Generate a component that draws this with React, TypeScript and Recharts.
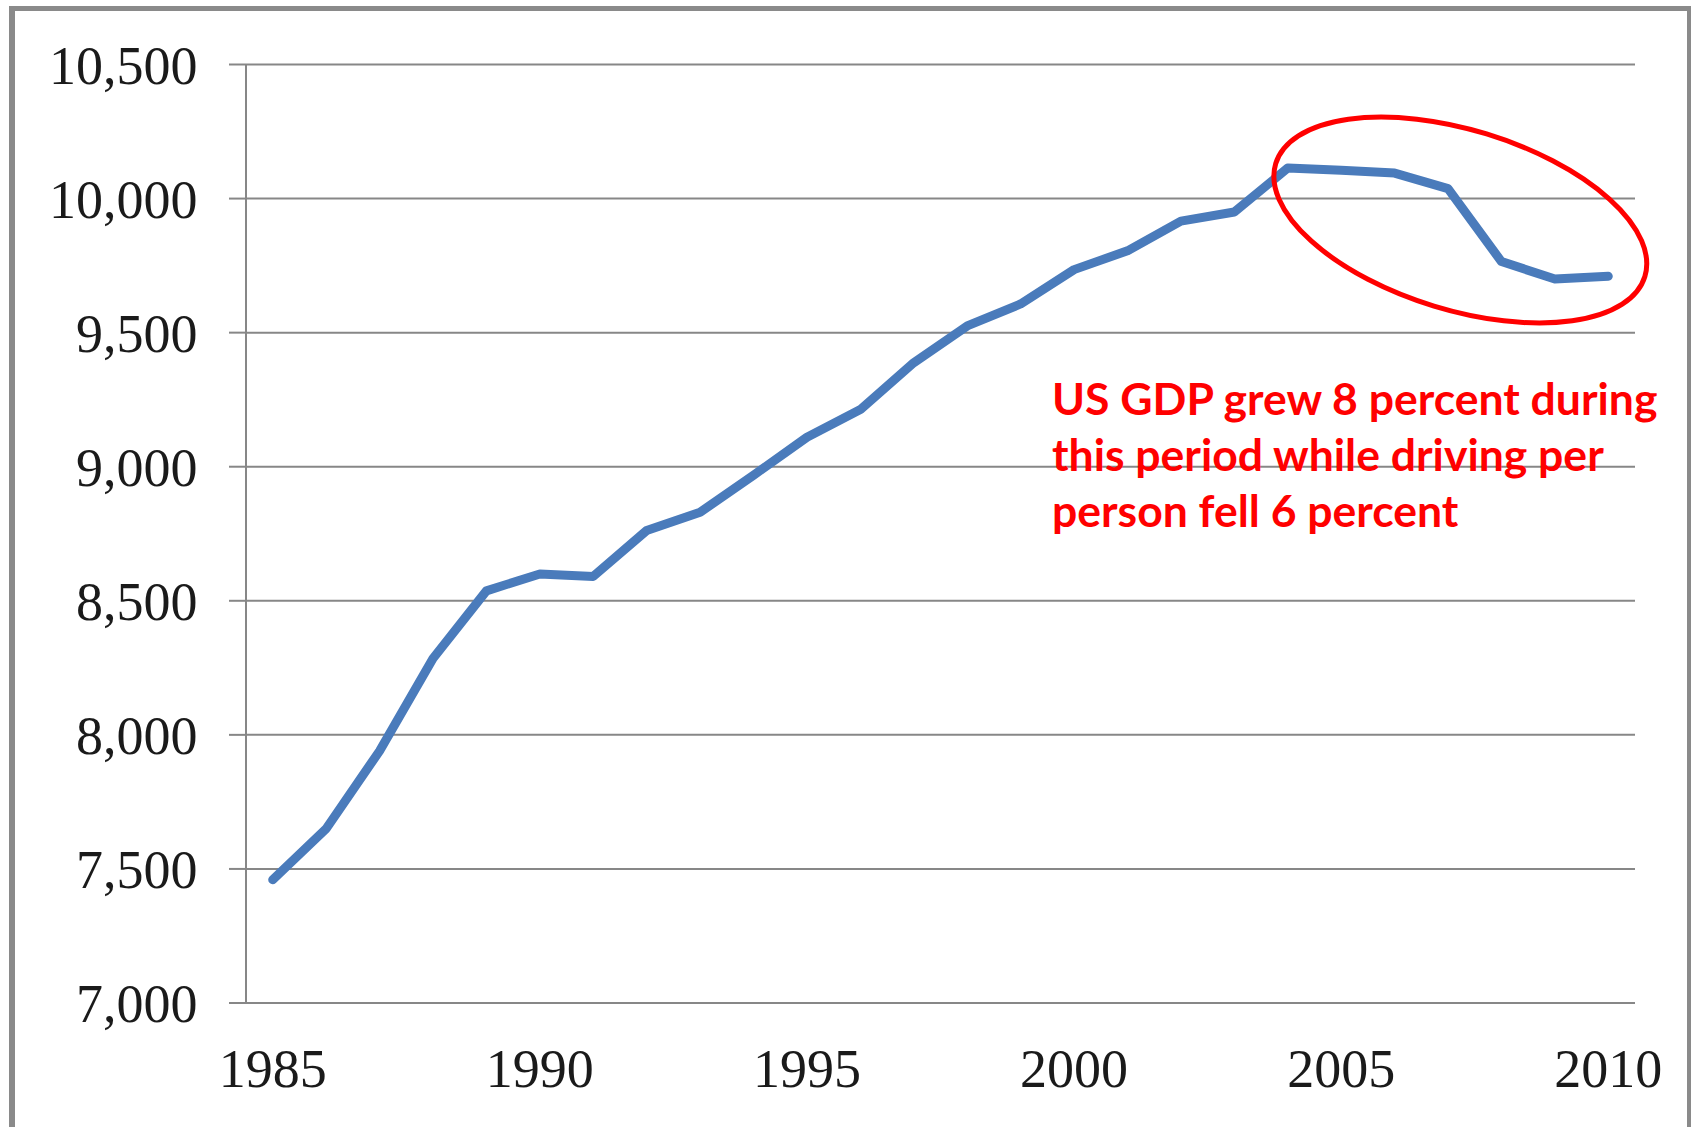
import { LineChart, Line, XAxis, YAxis, CartesianGrid, ReferenceDot, Customized } from "recharts"

const years = [
  1985, 1986, 1987, 1988, 1989, 1990, 1991, 1992, 1993, 1994, 1995, 1996, 1997,
  1998, 1999, 2000, 2001, 2002, 2003, 2004, 2005, 2006, 2007, 2008, 2009, 2010,
]

// vehicle miles driven per person
const milesPerPerson = [
  7460, 7650, 7940, 8285, 8537, 8600, 8591, 8762, 8830, 8968, 9110, 9213, 9388,
  9525, 9607, 9735, 9805, 9916, 9950, 10114, 10106, 10095, 10037, 9765, 9700, 9710,
]

const yTicks = [7000, 7500, 8000, 8500, 9000, 9500, 10000, 10500]
const yearTicks = [1985, 1990, 1995, 2000, 2005, 2010]

const noteLines = [
  "US GDP grew 8 percent during",
  "this period while driving per",
  "person fell 6 percent",
]

// excel style category axis: each year sits in the middle of its slot
const data = years.map((year, i) => ({ x: year + 0.5, miles: milesPerPerson[i] }))
const labelTicks = yearTicks.map((y) => y + 0.5)

const GRID = "#878787"
const serif = "'Liberation Serif', 'Times New Roman', serif"

function Circle(props: any) {
  const { cx, cy } = props
  return (
    <ellipse
      cx={cx}
      cy={cy}
      rx={193}
      ry={90}
      fill="none"
      stroke="#ff0000"
      strokeWidth={5}
      transform={`rotate(17 ${cx} ${cy})`}
    />
  )
}

function Note() {
  return (
    <g>
      {noteLines.map((line, i) => (
        <text
          key={line}
          x={1052}
          y={415 + i * 56}
          fill="#ff0000"
          fontFamily="Lato, 'Open Sans', sans-serif"
          fontWeight={700}
          fontSize={44.5}
        >
          {line}
        </text>
      ))}
    </g>
  )
}

export default function App() {
  return (
    <div style={{ position: "absolute", left: 0, top: 0, width: 1692, height: 1127, background: "#fff", overflow: "hidden" }}>
      <div
        style={{
          position: "absolute",
          left: 9,
          top: 6,
          width: 1682,
          height: 1200,
          boxSizing: "border-box",
          borderLeft: "6px solid #8a8a8a",
          borderTop: "5px solid #8a8a8a",
          borderRight: "4px solid #8a8a8a",
        }}
      />
      <div style={{ position: "absolute", left: 0, top: 0 }}>
        <LineChart width={1692} height={1127} data={data} margin={{ top: 64.5, right: 57, bottom: 27, left: 0 }}>
          <CartesianGrid vertical={false} stroke={GRID} strokeWidth={2} />
          <XAxis
            dataKey="x"
            type="number"
            domain={[1985, 2011]}
            ticks={yearTicks}
            interval={0}
            tick={false}
            tickSize={17}
            height={17}
            stroke={GRID}
            strokeWidth={2}
          />
          <XAxis
            xAxisId="label"
            dataKey="x"
            type="number"
            domain={[1985, 2011]}
            ticks={labelTicks}
            interval={0}
            axisLine={false}
            tickLine={false}
            tickSize={0}
            tickMargin={28.7}
            height={80}
            tickFormatter={(v) => String(Math.floor(v))}
            tick={{ fill: "#1a1a1a", fontSize: 54, fontFamily: serif }}
          />
          <YAxis
            type="number"
            domain={[7000, 10500]}
            ticks={yTicks}
            interval={0}
            width={246}
            tickSize={17}
            tickMargin={31.5}
            stroke={GRID}
            strokeWidth={2}
            tickFormatter={(v) => v.toLocaleString("en-US")}
            tick={{ fill: "#1a1a1a", fontSize: 54, fontFamily: serif }}
          />
          <Line
            type="linear"
            dataKey="miles"
            stroke="#4a7bbb"
            strokeWidth={9}
            strokeLinejoin="round"
            strokeLinecap="round"
            dot={false}
            activeDot={false}
            isAnimationActive={false}
          />
          <ReferenceDot x={2007.73} y={9920} r={1} shape={Circle} ifOverflow="visible" />
          <Customized component={Note} />
        </LineChart>
      </div>
    </div>
  )
}
